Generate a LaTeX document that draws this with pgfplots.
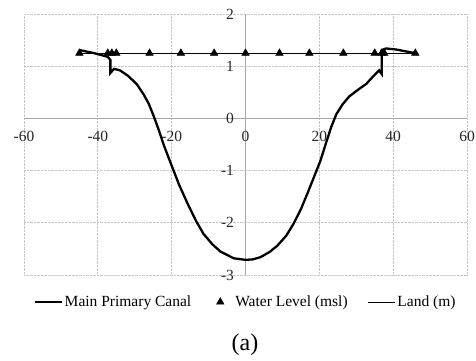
\documentclass[border=0pt]{standalone}
\usepackage{fontspec}
\setmainfont{Liberation Serif}
\usepackage{pgfplots}
\pgfplotsset{compat=1.18}
\pgfplotsset{longline/.style={legend image code/.code={\draw[##1] (0pt,0pt) -- (27pt,0pt);}},
  trimark/.style={legend image code/.code={\path[draw=none, fill=none] (0pt,-1pt) rectangle (22pt,1pt); \draw[##1] plot coordinates {(9pt,0pt)};}}}
\begin{document}
\fontsize{16}{19}\selectfont
\begin{tikzpicture}
\path[use as bounding box] (-24pt,-85pt) rectangle (452pt,275pt);
\begin{axis}[
  at={(0pt,0pt)}, anchor=south west,
  scale only axis, width=443pt, height=261pt,
  xmin=-60, xmax=60, ymin=-3, ymax=2,
  xtick={-60,-40,...,60}, ytick={-3,...,2},
  axis lines=middle,
  axis line style={draw=gray!70, line width=0.8pt, -},
  hide obscured x ticks=false, hide obscured y ticks=false,
  major tick length=0pt,
  grid=major,
  major grid style={draw=gray!45, densely dotted, line width=0.9pt},
  /pgf/number format/assume math mode=true,
  tick label style={font=\fontsize{15.5}{18}\selectfont, text=black!85},
  xticklabel style={yshift=-7pt},
  yticklabel style={xshift=-6pt},
  legend columns=3,
  legend style={at={(0.5,0)}, anchor=center, xshift=0pt, yshift=-27pt, draw=none, fill=none,
    font=\fontsize{15.5}{19}\selectfont, inner xsep=0pt,
    /tikz/every odd column/.append style={column sep=0pt},
    /tikz/every even column/.append style={column sep=18pt},
    /tikz/column 4/.append style={column sep=14pt}},
  legend cell align=left,
  clip=false,
]
\addplot[black, line width=2.3pt, longline] coordinates {
(-45,1.31) (-41,1.25) (-37.3,1.18) (-36.6,1.12) (-36.6,0.87) (-35.6,0.95)
(-34,0.92) (-31.9,0.82) (-29.5,0.66) (-27.6,0.46) (-26.2,0.28) (-24.9,0.05)
(-23.5,-0.22) (-22.2,-0.5) (-20.3,-0.85) (-18,-1.27) (-15.7,-1.63)
(-13.5,-1.95) (-11.4,-2.21) (-9,-2.41) (-6.8,-2.55) (-3.2,-2.68) (0,-2.71)
(2,-2.70) (4,-2.66) (6.5,-2.56) (8.6,-2.44) (11,-2.25) (13,-2.02) (15,-1.74)
(16.7,-1.45) (18.4,-1.15) (20.3,-0.81) (21.9,-0.45) (23.3,-0.15) (24.6,0.08)
(26.3,0.27) (28.1,0.42) (30.5,0.55) (32.7,0.66) (34.9,0.83) (36.2,0.92)
(36.9,0.85) (36.9,1.31) (38.1,1.34) (40.8,1.32) (43,1.29) (46,1.25)
};
\addlegendentry{Main Primary Canal}
\addplot[only marks, mark=triangle*, mark size=4.4pt, black, trimark] coordinates {
(-45,1.25) (-37.3,1.25) (-36.2,1.25) (-35,1.25) (-26,1.25) (-17.5,1.25)
(-8.5,1.25) (0,1.25) (9.2,1.25) (17.3,1.25) (26.5,1.25) (35,1.25)
(36.9,1.25) (37.6,1.25) (46,1.25)
};
\addlegendentry{Water Level (msl)}
\addplot[black, line width=0.8pt, longline] coordinates {
(-45,1.25) (-37.3,1.25) (-36.2,1.25) (-35,1.25) (-26,1.25) (-17.5,1.25)
(-8.5,1.25) (0,1.25) (9.2,1.25) (17.3,1.25) (26.5,1.25) (35,1.25)
(36.9,1.25) (37.6,1.25) (46,1.25)
};
\addlegendentry{Land (m)}
\end{axis}
\node[font=\fontsize{24}{28}\selectfont] at (221pt,-70pt) {(a)};
\end{tikzpicture}
\end{document}
